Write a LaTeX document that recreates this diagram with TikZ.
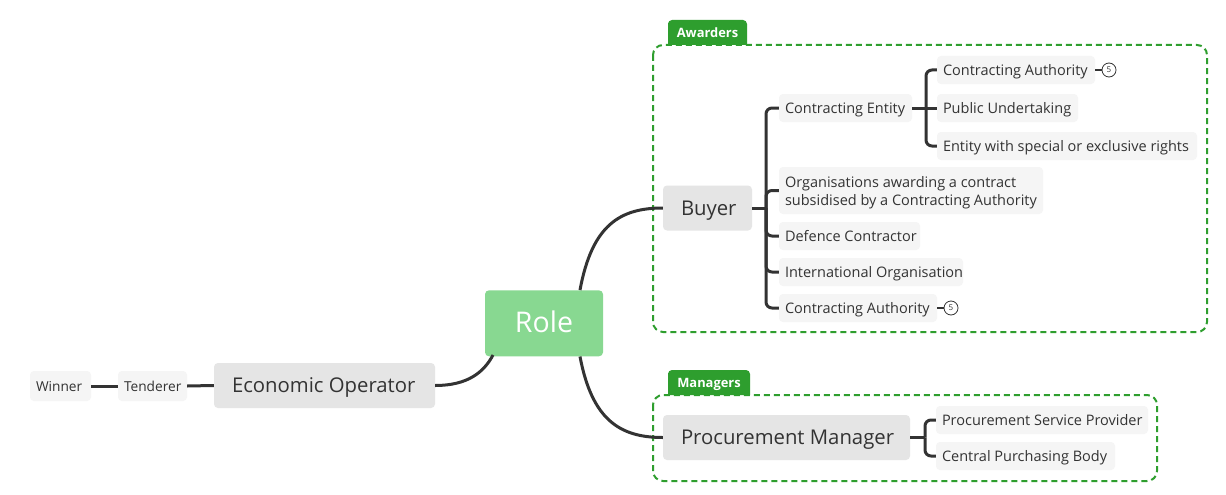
\documentclass[tikz,border=0pt]{standalone}
\usepackage{fontspec}
\setmainfont{Open Sans}
\definecolor{linec}{HTML}{333333}
\definecolor{txtc}{HTML}{333333}
\definecolor{rolefill}{HTML}{88D891}
\definecolor{mainfill}{HTML}{E5E5E5}
\definecolor{subfill}{HTML}{F5F5F5}
\definecolor{grp}{HTML}{2E9E2E}
\newcommand{\lbox}[2]{\makebox[#1][l]{#2}}
\begin{document}
\begin{tikzpicture}[x=1pt,y=-1pt,
  base/.style={rounded corners=4pt, inner sep=0pt, text=txtc},
  rolebox/.style={base, text height=23pt, text depth=4pt, fill=rolefill, text=white, font=\fontsize{28.5}{32}\selectfont},
  mainbox/.style={base, text height=17pt, text depth=3pt, fill=mainfill, font=\fontsize{20.3}{24}\selectfont, minimum height=45pt, inner xsep=18pt},
  subbox/.style={base, text height=13pt, text depth=2.4pt, fill=subfill, font=\fontsize{14.5}{18}\selectfont, minimum height=28pt, inner xsep=6pt},
  orgbox/.style={base, text height=31pt, text depth=2pt, fill=subfill, font=\fontsize{14.5}{18}\selectfont, minimum height=47pt, inner xsep=6pt},
  smallbox/.style={base, text height=12.5pt, text depth=2.5pt, fill=subfill, font=\fontsize{13.7}{16}\selectfont, minimum height=30pt, inner xsep=6pt},
  conn/.style={draw=linec, line width=3pt},
  tree/.style={draw=linec, line width=3pt, rounded corners=6pt},
  grpbox/.style={draw=grp, line width=2pt, dash pattern=on 6pt off 4pt, rounded corners=10pt},
  tab/.style={fill=grp},
  tabtext/.style={inner sep=0pt, text height=11pt, text depth=1.8pt, text=white, font=\fontsize{12.9}{15}\selectfont\bfseries},
  count/.style={circle, draw=linec, line width=0.8pt, fill=white, minimum size=14pt, inner sep=0pt, font=\fontsize{8}{9}\selectfont, text=txtc}
]
\useasboundingbox (0,0) rectangle (1226,495);
\fill[white] (0,0) rectangle (1226,495);

% groups
\path[grpbox] (653,45) rectangle (1207,332);
\path[tab] (668,45) -- (668,23) [rounded corners=4pt] -- (668,20) -- (747,20) [sharp corners] -- (747,45) -- cycle;
\node[tabtext] (tabA) at (707.5,32.5) {Awarders};
\path[grpbox] (653,395) rectangle (1157,481);
\path[tab] (668,395) -- (668,373) [rounded corners=4pt] -- (668,370) -- (750,370) [sharp corners] -- (750,395) -- cycle;
\node[tabtext] (tabM) at (709,382.5) {Managers};

% nodes
\node[rolebox, minimum width=118pt, minimum height=66pt] (role) at (544,323.3) {Role};
\node[mainbox] (eo) at (324.5,385.5) {\lbox{185pt}{Economic Operator}};
\node[smallbox] (tend) at (152.5,386) {\lbox{57pt}{Tenderer}};
\node[smallbox] (win) at (60.5,386) {\lbox{49pt}{Winner}};
\node[mainbox] (buyer) at (707.5,208) {\lbox{53pt}{Buyer}};
\node[mainbox] (pm) at (786.5,437.5) {\lbox{211pt}{Procurement Manager}};

\node[subbox] (ce) at (845.5,108) {\lbox{121pt}{Contracting Entity}};
\node[orgbox] (org) at (911,190.5) {\vbox{\baselineskip=17.7pt\hbox to 252pt{Organisations awarding a contract\hss}\hbox to 252pt{subsidised by a Contracting Authority\hss}}};
\node[subbox] (dc) at (849.5,236) {\lbox{129pt}{Defence Contractor}};
\node[subbox] (io) at (871,272) {\lbox{172pt}{International Organisation}};
\node[subbox] (ca2) at (858,308) {\lbox{146pt}{Contracting Authority}};
\node[count] (n2) at (951,308) {5};

\node[subbox] (ca1) at (1016,70) {\lbox{146pt}{Contracting Authority}};
\node[count] (n1) at (1109,70) {5};
\node[subbox] (pu) at (1007.5,108) {\lbox{129pt}{Public Undertaking}};
\node[subbox] (es) at (1067,146) {\lbox{248pt}{Entity with special or exclusive rights}};

\node[subbox] (psp) at (1042,420) {\lbox{200pt}{Procurement Service Provider}};
\node[subbox] (cpb) at (1025.5,456) {\lbox{167pt}{Central Purchasing Body}};

% connectors
\coordinate (jb) at (766,208);
\coordinate (jce) at (926,108);
\coordinate (jpm) at (925,437.5);

\draw[conn] (win.east) -- (tend.west);
\draw[conn] (tend.east) -- (eo.west);
\draw[conn] (eo.east) .. controls (468,385.5) and (484,372) .. (493,355);
\draw[conn] (role.north) ++(36,0) coordinate (rt) (rt) .. controls (592,225) and (620,208) .. (buyer.west);
\draw[conn] (role.south) ++(36,0) coordinate (rb) (rb) .. controls (592,420) and (620,437.5) .. (pm.west);

\draw[conn] (buyer.east) -- (jb);
\draw[tree] (jb) |- (ce.west);
\draw[tree] (jb) |- (org.west);
\draw[tree] (jb) |- (dc.west);
\draw[tree] (jb) |- (io.west);
\draw[tree] (jb) |- (ca2.west);
\draw[conn, line width=2pt] (ca2.east) -- (n2.west);

\draw[conn] (ce.east) -- (jce);
\draw[tree] (jce) |- (ca1.west);
\draw[tree] (jce) -- (pu.west);
\draw[tree] (jce) |- (es.west);
\draw[conn, line width=2pt] (ca1.east) -- (n1.west);

\draw[conn] (pm.east) -- (jpm);
\draw[tree] (jpm) |- (psp.west);
\draw[tree] (jpm) |- (cpb.west);
\end{tikzpicture}
\end{document}
